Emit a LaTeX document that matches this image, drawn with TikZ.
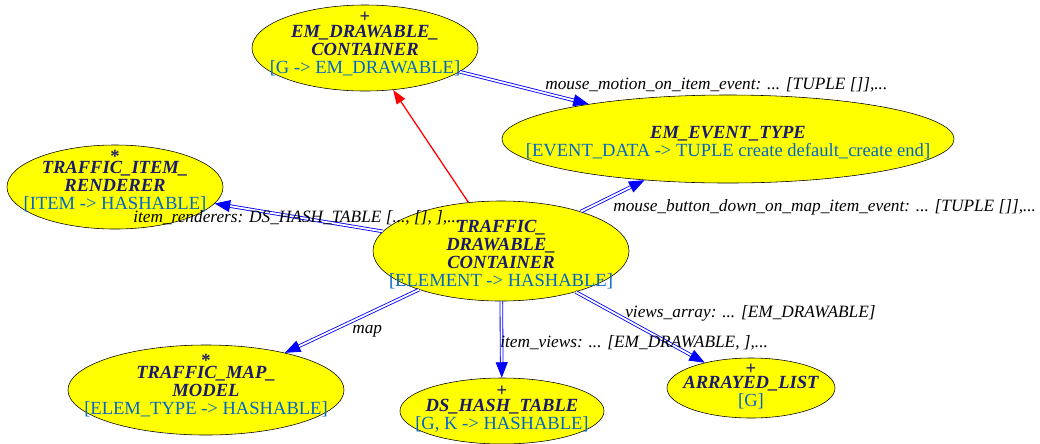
\documentclass[tikz,border=0pt]{standalone}
\usepackage{fontspec}
\setmainfont{Liberation Serif}
\usetikzlibrary{shapes.geometric,arrows.meta}
\definecolor{clsname}{RGB}{25,25,112}
\definecolor{clsgen}{RGB}{0,102,204}
\definecolor{clsfill}{RGB}{255,255,0}
\newcommand{\cname}[1]{\textcolor{clsname}{\bfseries\itshape #1}}
\newcommand{\cgen}[1]{\textcolor{clsgen}{#1}}
\begin{document}
\begin{tikzpicture}[x=0.025cm,y=-0.025cm]
	\tikzstyle{cls}=[draw,ellipse,fill=clsfill,inner xsep=-3cm,inner ysep=-1.5cm,align=center,font=\fontsize{13.2}{12.8}\selectfont]
	\tikzstyle{effective}=[label={[inner sep=0pt,yshift=#1,text=clsname,font=\fontsize{13.2}{13}\selectfont\bfseries]center:+}]
	\tikzstyle{deferred}=[label={[inner sep=0pt,yshift=#1,text=clsname,font=\fontsize{13.2}{13}\selectfont\bfseries]center:*}]
	\tikzstyle{client}=[draw=blue,double=white,double distance=1.3pt,line width=0.6pt,-{Triangle[length=11pt,width=8.5pt]}]
	\tikzstyle{heir}=[draw=red,line width=0.9pt,-{Triangle[length=10pt,width=7pt]}]
	\tikzstyle{lbl}=[inner sep=0pt,anchor=west,font=\fontsize{12.3}{13}\selectfont\itshape]
	\useasboundingbox (0,0) rectangle (1040,443);
	\node[cls,effective=22pt,text height=38.2pt,minimum width=5.65cm,minimum height=2.15cm] (emdc) at (365,48) {\cname{EM\_DRAWABLE\_}\\ \cname{CONTAINER}\\ \cgen{[G -> EM\_DRAWABLE]}};
	\node[cls,text height=26.9pt,minimum width=11.3cm,minimum height=2.2cm] (eet) at (728,139) {\cname{EM\_EVENT\_TYPE}\\ \cgen{[EVENT\_DATA -> TUPLE create default\_create end]}};
	\node[cls,deferred=22pt,text height=34pt,minimum width=5.4cm,minimum height=2.1cm] (tir) at (115,187) {\cname{TRAFFIC\_ITEM\_}\\ \cname{RENDERER}\\ \cgen{[ITEM -> HASHABLE]}};
	\node[cls,text height=52.4pt,minimum width=6.4cm,minimum height=2.5cm] (tdc) at (501,251) {\cname{TRAFFIC\_}\\ \cname{DRAWABLE\_}\\ \cname{CONTAINER}\\ \cgen{[ELEMENT -> HASHABLE]}};
	\node[cls,deferred=21.3pt,text height=36.8pt,minimum width=6.9cm,minimum height=2.25cm] (tmm) at (206,390) {\cname{TRAFFIC\_MAP\_}\\ \cname{MODEL}\\ \cgen{[ELEM\_TYPE -> HASHABLE]}};
	\node[cls,effective=14.2pt,text height=28.3pt,minimum width=5.1cm,minimum height=1.65cm] (dsht) at (502,411) {\cname{DS\_HASH\_TABLE}\\ \cgen{[G, K -> HASHABLE]}};
	\node[cls,effective=13.5pt,text height=28.3pt,minimum width=4.2cm,minimum height=1.5cm] (al) at (751,388) {\cname{ARRAYED\_LIST}\\ \cgen{[G]}};
	% client links
	\draw[client] (emdc) -- (eet);
	\draw[client] (tdc) -- (eet);
	\draw[client] (tdc) -- (tir);
	\draw[client] (tdc) -- (tmm);
	\draw[client] (tdc) -- (dsht);
	\draw[client] (tdc) -- (al);
	% inheritance
	\draw[heir] (tdc) -- (emdc);
	% feature names
	\node[lbl] (lmotion) at (545,85) {mouse\_motion\_on\_item\_event: ... [TUPLE []],...};
	\node[lbl] (lbutton) at (613,207) {mouse\_button\_down\_on\_map\_item\_event: ... [TUPLE []],...};
	\node[lbl] (lrender) at (133,218) {item\_renderers: DS\_HASH\_TABLE [..., [], ],...};
	\node[lbl] (lmap) at (352,331) {map};
	\node[lbl] (lviews) at (500,343) {item\_views: ... [EM\_DRAWABLE, ],...};
	\node[lbl] (larray) at (625,313) {views\_array: ... [EM\_DRAWABLE]};
\end{tikzpicture}
\end{document}
